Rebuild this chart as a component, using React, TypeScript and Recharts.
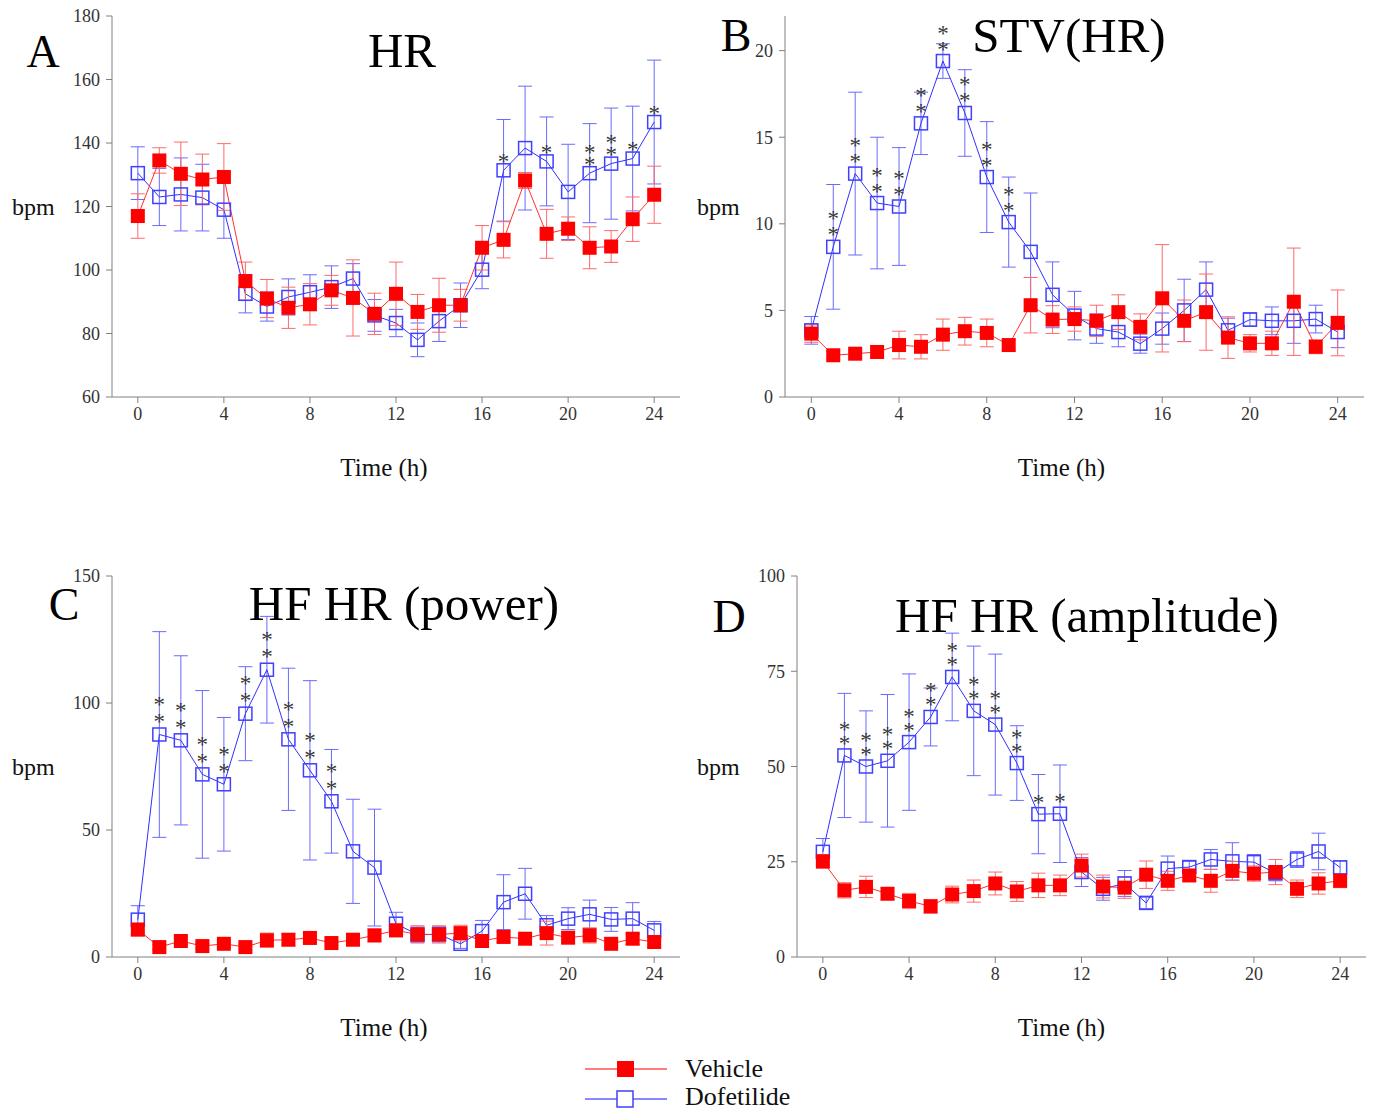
import React from 'react';
import { LineChart, Line, XAxis, YAxis, ErrorBar } from 'recharts';

const FONT = '"Liberation Serif", "DejaVu Serif", serif';

const hours = [0, 1, 2, 3, 4, 5, 6, 7, 8, 9, 10, 11, 12, 13, 14, 15, 16, 17, 18, 19, 20, 21, 22, 23, 24];

// A - HR
const hrVehicle = [117, 134.5, 130.3, 128.5, 129.3, 96.5, 91, 88.1, 89.2, 93.6, 91.2, 86.2, 92.5, 86.8, 88.9, 88.9, 107, 109.5, 128.2, 111.4, 113, 107, 107.4, 116, 123.7];
const hrVehicleSem = [7, 4, 10, 8, 10.5, 6, 6, 6.5, 6.5, 4.7, 12, 6.5, 10, 5.5, 8.5, 5, 7, 5.7, 2.5, 7.7, 3.7, 6.6, 5, 7, 9];
const hrDofetilide = [130.5, 123, 123.8, 122.8, 119, 92.5, 88.5, 91.5, 93, 94.6, 97.3, 85.7, 83.3, 78, 83.9, 88.9, 100.1, 131.4, 138.4, 134.2, 124.6, 130.5, 133.5, 135.1, 146.6];
const hrDofetilideSem = [8.3, 9, 11.5, 10.5, 9, 6, 4.6, 5.7, 5.5, 6.7, 4.7, 5, 4.3, 5.3, 6.4, 7, 6, 16, 19.5, 14, 15, 15.6, 17.5, 16.5, 19.5];
const hrSig = ['', '', '', '', '', '', '', '', '', '', '', '', '', '', '', '', '', '*', '', '*', '', '**', '**', '*', '*'];

// B - STV(HR)
const stvVehicle = [3.66, 2.41, 2.5, 2.6, 3.0, 2.9, 3.6, 3.8, 3.7, 3.0, 5.3, 4.47, 4.5, 4.4, 4.9, 4.05, 5.7, 4.4, 4.9, 3.43, 3.1, 3.1, 5.5, 2.9, 4.28];
const stvVehicleSem = [0.5, 0.25, 0.2, 0.35, 0.8, 0.7, 0.9, 0.8, 0.8, 0.3, 1.6, 0.8, 0.7, 0.9, 1.0, 0.75, 3.1, 1.2, 2.2, 1.2, 0.5, 0.7, 3.1, 0.4, 1.9];
const stvDofetilide = [3.85, 8.67, 12.9, 11.2, 11.0, 15.8, 19.4, 16.4, 12.7, 10.1, 8.38, 5.9, 4.7, 3.95, 3.75, 3.08, 3.95, 5.0, 6.2, 3.85, 4.47, 4.4, 4.4, 4.5, 3.75];
const stvDofetilideSem = [0.8, 3.6, 4.7, 3.8, 3.4, 1.8, 1.0, 2.5, 3.2, 2.6, 3.4, 1.9, 1.4, 0.85, 0.85, 0.55, 0.9, 1.8, 1.6, 0.7, 0.4, 0.8, 1.3, 0.8, 0.9];
const stvSig = ['', '**', '**', '**', '**', '**', '**', '**', '**', '**', '', '', '', '', '', '', '', '', '', '', '', '', '', '', ''];

// C - HF HR (power)
const powVehicle = [10.8, 3.9, 6.3, 4.3, 5.2, 3.9, 6.6, 6.8, 7.5, 5.5, 6.8, 8.5, 10.5, 8.9, 8.9, 9.4, 6.3, 7.9, 7.2, 9.4, 7.6, 8.5, 5.2, 7.2, 5.9];
const powVehicleSem = [2.5, 1, 1.3, 1, 1.2, 1, 2.8, 2.3, 1.8, 1, 1.7, 2.5, 2.5, 3.4, 3.4, 3.1, 2.2, 2, 1.7, 4.7, 2.3, 3, 1.3, 2.3, 2];
const powDofetilide = [14.7, 87.6, 85.3, 71.9, 68, 95.8, 113.1, 85.7, 73.5, 61.3, 41.6, 35.2, 13.1, 8.8, 8.9, 5.2, 10.2, 21.6, 24.9, 12.5, 15.1, 16.8, 14.8, 15.1, 10.5];
const powDofetilideSem = [5.5, 40.5, 33.3, 33, 26.3, 18.5, 21, 28, 35.3, 20.4, 20.5, 23, 4.5, 3, 3, 1.8, 4.2, 10.8, 10, 3.8, 4.3, 5.6, 4.7, 6.3, 3.5];
const powSig = ['', '**', '**', '**', '**', '**', '**', '**', '**', '**', '', '', '', '', '', '', '', '', '', '', '', '', '', '', ''];

// D - HF HR (amplitude)
const ampVehicle = [25.1, 17.5, 18.4, 16.6, 14.7, 13.3, 16.4, 17.3, 19.3, 17.2, 18.8, 18.8, 24, 18.5, 18.2, 21.6, 20, 21.4, 20, 22.6, 21.9, 22.3, 17.9, 19.3, 20];
const ampVehicleSem = [1.8, 2, 2.8, 1.5, 2, 1.8, 2.2, 2.9, 3, 2.6, 3.2, 2.7, 3, 3, 2.8, 3.6, 2.5, 1.5, 3, 2.5, 2, 3.3, 2.3, 2.8, 1.8];
const ampDofetilide = [27.6, 52.9, 50, 51.5, 56.4, 63, 73.5, 64.6, 61, 50.9, 37.5, 37.6, 22.3, 17.9, 19.3, 14.2, 23.2, 23.6, 25.6, 25.1, 24.9, 22, 25.6, 27.7, 23.5];
const ampDofetilideSem = [3.5, 16.3, 14.6, 17.4, 17.9, 7.6, 11.5, 17, 18.5, 9.8, 10.4, 12.8, 3.8, 3, 3.4, 1.5, 3.3, 1.5, 2.6, 4.9, 2, 2, 2.1, 4.8, 1.8];
const ampSig = ['', '**', '**', '**', '**', '**', '**', '**', '**', '**', '*', '*', '', '', '', '', '', '', '', '', '', '', '', '', ''];

const xTicks = [0, 4, 8, 12, 16, 20, 24];

function buildRows(veh: number[], vehErr: number[], dof: number[], dofErr: number[], sig: string[]) {
    return hours.map((t, i) => ({ t, veh: veh[i], vehErr: vehErr[i], dof: dof[i], dofErr: dofErr[i], sig: sig[i] }));
}

const AXIS = '#808080';
const TICK = { fontSize: 18, fill: '#333', fontFamily: FONT };

const vehicleDot = (props: any) => {
    const { cx, cy, index } = props;
    if (cx == null || cy == null) return <g key={`v${index}`} />;
    return <rect key={`v${index}`} x={cx - 7} y={cy - 7} width={14} height={14} fill="#ff0000" />;
};

// open square plus the significance stars stacked above it (one text per point)
const makeDofDot = (gap1: number, gap2: number) => (props: any) => {
    const { cx, cy, index, payload } = props;
    if (cx == null || cy == null) return <g key={`d${index}`} />;
    const stars: string = (payload && payload.sig) || '';
    return (
        <g key={`d${index}`}>
            <rect x={cx - 6.5} y={cy - 6.5} width={13} height={13} fill="none" stroke="#4040ff" strokeWidth={1.5} />
            {stars.length > 0 && (
                <text textAnchor="middle" fontSize={23} fill="#3a3a3a" fontFamily={FONT}>
                    {stars.split('').map((s, k) => (
                        <tspan key={k} x={cx} y={cy - (k === 0 ? gap1 : gap2) + 11.5}>
                            {s}
                        </tspan>
                    ))}
                </text>
            )}
        </g>
    );
};

interface PanelProps {
    left: number;
    top: number;
    width: number;
    yWidth: number;
    right: number;
    rows: any[];
    yDomain: [number, number];
    yTicks: number[];
    bpmOffset: number;
    timeDx: number;
    gaps: [number, number];
}

function Panel({ left, top, width, yWidth, right, rows, yDomain, yTicks, bpmOffset, timeDx, gaps }: PanelProps) {
    return (
        <div style={{ position: 'absolute', left, top }}>
            <LineChart width={width} height={497} data={rows} margin={{ top: 16, right, bottom: 0, left: 0 }}>
                <XAxis
                    dataKey="t"
                    type="number"
                    domain={[-1.2, 25.2]}
                    ticks={xTicks}
                    allowDataOverflow
                    height={100}
                    tickSize={6}
                    tickMargin={4}
                    axisLine={{ stroke: AXIS }}
                    tickLine={{ stroke: AXIS }}
                    tick={TICK}
                    label={{ value: 'Time (h)', position: 'insideBottom', offset: 21, dx: timeDx, fontSize: 25, fill: '#111', fontFamily: FONT }}
                />
                <YAxis
                    type="number"
                    domain={yDomain}
                    ticks={yTicks}
                    allowDataOverflow
                    width={yWidth}
                    tickSize={6}
                    tickMargin={6}
                    axisLine={{ stroke: AXIS }}
                    tickLine={{ stroke: AXIS }}
                    tick={TICK}
                    label={{ value: 'bpm', position: 'insideLeft', offset: bpmOffset, angle: 0, fontSize: 24, fill: '#111', fontFamily: FONT }}
                />
                <Line
                    dataKey="dof"
                    type="linear"
                    stroke="#3030ff"
                    strokeWidth={1}
                    dot={makeDofDot(gaps[0], gaps[1])}
                    activeDot={false}
                    isAnimationActive={false}
                >
                    <ErrorBar dataKey="dofErr" width={7} stroke="#6a6aff" strokeWidth={1} />
                </Line>
                <Line
                    dataKey="veh"
                    type="linear"
                    stroke="#ff3030"
                    strokeWidth={1}
                    dot={vehicleDot}
                    activeDot={false}
                    isAnimationActive={false}
                >
                    <ErrorBar dataKey="vehErr" width={7} stroke="#ff6a6a" strokeWidth={1} />
                </Line>
            </LineChart>
        </div>
    );
}

export default function App() {
    const hrRows = buildRows(hrVehicle, hrVehicleSem, hrDofetilide, hrDofetilideSem, hrSig);
    const stvRows = buildRows(stvVehicle, stvVehicleSem, stvDofetilide, stvDofetilideSem, stvSig);
    const powRows = buildRows(powVehicle, powVehicleSem, powDofetilide, powDofetilideSem, powSig);
    const ampRows = buildRows(ampVehicle, ampVehicleSem, ampDofetilide, ampDofetilideSem, ampSig);

    return (
        <div style={{ position: 'absolute', left: 0, top: 0, width: 1374, height: 1111, background: '#fff', fontFamily: FONT, overflow: 'hidden' }}>
            <Panel left={0} top={0} width={690} yWidth={112} right={10} rows={hrRows} yDomain={[60, 180]} yTicks={[60, 80, 100, 120, 140, 160, 180]} bpmOffset={12} timeDx={-12} gaps={[13, 25]} />
            <Panel left={690} top={0} width={684} yWidth={95} right={10} rows={stvRows} yDomain={[0, 22]} yTicks={[0, 5, 10, 15, 20]} bpmOffset={7} timeDx={-13} gaps={[16, 32]} />
            <Panel left={0} top={560} width={690} yWidth={112} right={10} rows={powRows} yDomain={[0, 150]} yTicks={[0, 50, 100, 150]} bpmOffset={12} timeDx={-12} gaps={[17, 34]} />
            <Panel left={690} top={560} width={684} yWidth={107} right={8} rows={ampRows} yDomain={[0, 100]} yTicks={[0, 25, 50, 75, 100]} bpmOffset={7} timeDx={-20} gaps={[16, 30]} />

            {/* titles, panel letters and legend */}
            <svg width={1374} height={1111} style={{ position: 'absolute', left: 0, top: 0, pointerEvents: 'none' }}>
                <g fill="#000" fontFamily={FONT}>
                    <text x={43} y={67} fontSize={46} textAnchor="middle">A</text>
                    <text x={402} y={67} fontSize={49} textAnchor="middle">HR</text>
                    <text x={736} y={51} fontSize={46} textAnchor="middle">B</text>
                    <text x={1069} y={52} fontSize={49} textAnchor="middle">STV(HR)</text>
                    <text x={64} y={620} fontSize={46} textAnchor="middle">C</text>
                    <text x={404} y={620} fontSize={49} textAnchor="middle">HF HR (power)</text>
                    <text x={729} y={632} fontSize={46} textAnchor="middle">D</text>
                    <text x={1087} y={632} fontSize={49} textAnchor="middle">HF HR (amplitude)</text>
                </g>
                <line x1={585} y1={1069} x2={667} y2={1069} stroke="#ff5050" strokeWidth={1.5} />
                <rect x={617} y={1061} width={17} height={16} fill="#ff0000" />
                <text x={685} y={1077} fontSize={26} fontFamily={FONT} fill="#111">Vehicle</text>
                <line x1={585} y1={1099} x2={667} y2={1099} stroke="#6060ff" strokeWidth={1.5} />
                <rect x={617} y={1091} width={16} height={16} fill="#fff" stroke="#4040ff" strokeWidth={1.5} />
                <text x={685} y={1105} fontSize={26} fontFamily={FONT} fill="#111">Dofetilide</text>
            </svg>
        </div>
    );
}
